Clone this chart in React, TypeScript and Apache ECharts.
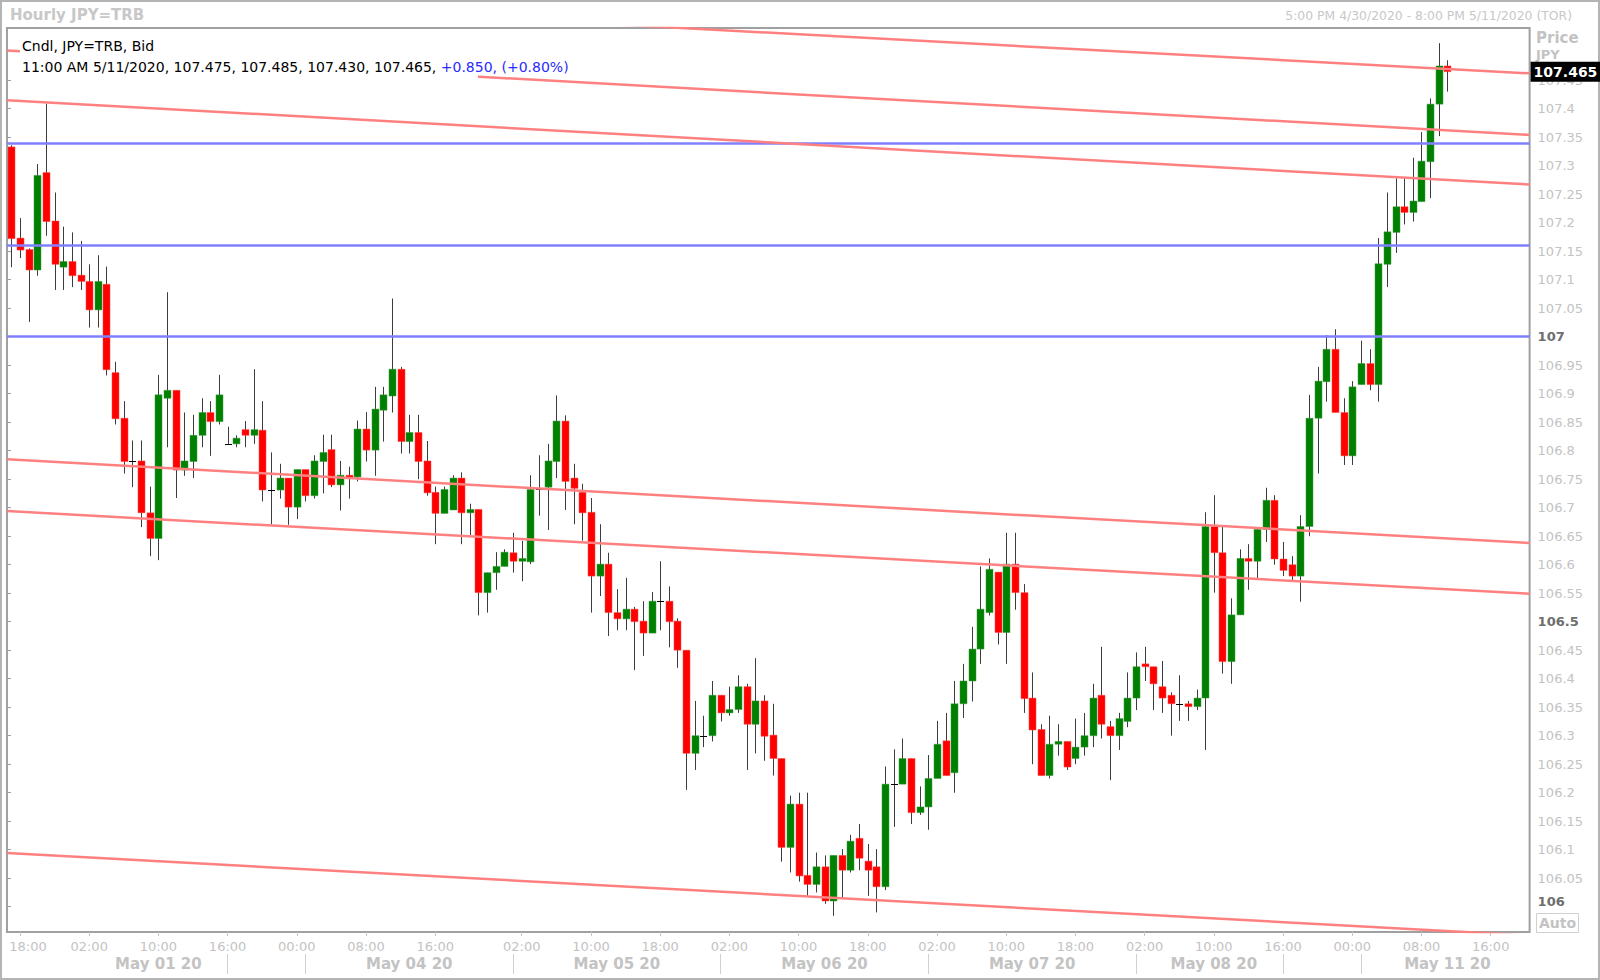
import React, { useEffect, useRef } from "react";
import * as echarts from "echarts";

// ---- time axis: trading sessions (date, first hour, last hour) ----
const sessions: [string, number, number][] = [
  ["2020-04-30", 17, 23],
  ["2020-05-01", 0, 17],
  ["2020-05-03", 16, 23],
  ["2020-05-04", 0, 23],
  ["2020-05-05", 0, 23],
  ["2020-05-06", 0, 23],
  ["2020-05-07", 0, 23],
  ["2020-05-08", 0, 17],
  ["2020-05-10", 16, 23],
  ["2020-05-11", 0, 20],
];

// ---- hourly OHLC (JPY=TRB, Bid) ----
const opens = [
  107.333, 107.173, 107.153, 107.117, 107.288, 107.203, 107.122, 107.132, 107.108, 107.097,
  107.047, 107.092, 106.937, 106.857, 106.782, 106.782, 106.691, 106.646, 106.892, 106.906,
  106.766, 106.781, 106.827, 106.867, 106.851, 106.812, 106.812, 106.837, 106.827, 106.836,
  106.731, 106.731, 106.752, 106.701, 106.767, 106.721, 106.781, 106.802, 106.740, 106.757,
  106.754, 106.838, 106.801, 106.871, 106.896, 106.943, 106.816, 106.832, 106.782, 106.727,
  106.690, 106.696, 106.752, 106.691, 106.697, 106.551, 106.586, 106.597, 106.621, 106.606,
  106.605, 106.732, 106.736, 106.781, 106.852, 106.752, 106.727, 106.692, 106.580, 106.601,
  106.516, 106.505, 106.522, 106.501, 106.480, 106.536, 106.536, 106.501, 106.450, 106.269,
  106.300, 106.300, 106.371, 106.340, 106.346, 106.386, 106.320, 106.361, 106.301, 106.260,
  106.104, 106.180, 106.055, 106.039, 106.070, 106.010, 106.090, 106.064, 106.120, 106.080,
  106.070, 106.035, 106.215, 106.215, 106.260, 106.165, 106.175, 106.225, 106.291, 106.235,
  106.356, 106.396, 106.452, 106.516, 106.587, 106.481, 106.601, 106.551, 106.366, 106.311,
  106.230, 106.285, 106.290, 106.260, 106.280, 106.300, 106.371, 106.316, 106.300, 106.325,
  106.366, 106.426, 106.421, 106.386, 106.371, 106.356, 106.356, 106.351, 106.366, 106.667,
  106.621, 106.430, 106.512, 106.611, 106.606, 106.662, 106.713, 106.610, 106.600, 106.580,
  106.667, 106.857, 106.921, 106.978, 106.867, 106.791, 106.916, 106.953, 106.916, 107.127,
  107.183, 107.228, 107.218, 107.237, 107.307, 107.408, 107.475,
];
const highs = [
  107.336, 107.208, 107.155, 107.303, 107.409, 107.253, 107.193, 107.183, 107.168, 107.127,
  107.143, 107.123, 106.956, 106.887, 106.818, 106.818, 106.737, 106.933, 107.078, 106.906,
  106.867, 106.863, 106.892, 106.887, 106.933, 106.842, 106.827, 106.852, 106.943, 106.887,
  106.797, 106.777, 106.752, 106.767, 106.767, 106.792, 106.828, 106.828, 106.782, 106.772,
  106.853, 106.868, 106.912, 106.912, 107.067, 106.947, 106.863, 106.863, 106.817, 106.737,
  106.737, 106.757, 106.762, 106.707, 106.697, 106.586, 106.622, 106.627, 106.656, 106.642,
  106.757, 106.792, 106.812, 106.897, 106.862, 106.777, 106.742, 106.717, 106.671, 106.621,
  106.557, 106.577, 106.526, 106.536, 106.552, 106.606, 106.562, 106.506, 106.450, 106.361,
  106.335, 106.396, 106.371, 106.386, 106.406, 106.391, 106.436, 106.371, 106.356, 106.260,
  106.195, 106.200, 106.200, 106.095, 106.090, 106.090, 106.101, 106.126, 106.145, 106.110,
  106.101, 106.246, 106.276, 106.295, 106.260, 106.211, 106.266, 106.326, 106.340, 106.396,
  106.426, 106.491, 106.597, 106.611, 106.587, 106.656, 106.656, 106.566, 106.411, 106.320,
  106.335, 106.320, 106.290, 106.330, 106.340, 106.391, 106.456, 106.326, 106.340, 106.411,
  106.446, 106.456, 106.421, 106.431, 106.376, 106.406, 106.361, 106.381, 106.692, 106.722,
  106.667, 106.541, 106.627, 106.636, 106.662, 106.735, 106.722, 106.640, 106.615, 106.687,
  106.898, 106.947, 107.003, 107.013, 106.892, 106.922, 106.993, 106.978, 107.173, 107.253,
  107.278, 107.278, 107.314, 107.359, 107.418, 107.515, 107.485,
];
const lows = [
  107.122, 107.138, 107.026, 107.107, 107.177, 107.082, 107.082, 107.087, 107.082, 107.016,
  107.016, 106.932, 106.846, 106.760, 106.736, 106.666, 106.615, 106.608, 106.806, 106.717,
  106.756, 106.752, 106.806, 106.791, 106.846, 106.812, 106.806, 106.806, 106.812, 106.711,
  106.671, 106.716, 106.670, 106.680, 106.711, 106.716, 106.725, 106.736, 106.695, 106.716,
  106.746, 106.781, 106.756, 106.816, 106.867, 106.795, 106.795, 106.750, 106.721, 106.636,
  106.690, 106.696, 106.636, 106.652, 106.511, 106.516, 106.556, 106.597, 106.586, 106.571,
  106.601, 106.686, 106.661, 106.752, 106.696, 106.671, 106.642, 106.516, 106.545, 106.475,
  106.485, 106.485, 106.415, 106.440, 106.480, 106.485, 106.455, 106.419, 106.205, 106.240,
  106.280, 106.290, 106.325, 106.335, 106.340, 106.240, 106.269, 106.256, 106.230, 106.079,
  106.060, 106.044, 106.019, 106.025, 106.005, 105.984, 106.015, 106.060, 106.064, 106.019,
  105.990, 106.029, 106.140, 106.215, 106.145, 106.161, 106.135, 106.225, 106.230, 106.200,
  106.331, 106.360, 106.426, 106.511, 106.460, 106.426, 106.521, 106.340, 106.250, 106.230,
  106.225, 106.265, 106.240, 106.250, 106.265, 106.280, 106.295, 106.222, 106.275, 106.315,
  106.345, 106.396, 106.345, 106.340, 106.300, 106.326, 106.326, 106.345, 106.275, 106.551,
  106.409, 106.391, 106.512, 106.556, 106.576, 106.640, 106.600, 106.580, 106.570, 106.535,
  106.650, 106.760, 106.886, 106.867, 106.775, 106.775, 106.916, 106.906, 106.886, 107.087,
  107.147, 107.197, 107.202, 107.237, 107.243, 107.352, 107.430,
];
const closes = [
  107.172, 107.152, 107.117, 107.283, 107.202, 107.127, 107.132, 107.107, 107.097, 107.047,
  107.097, 106.942, 106.856, 106.781, 106.782, 106.691, 106.646, 106.898, 106.906, 106.766,
  106.782, 106.827, 106.867, 106.851, 106.898, 106.812, 106.822, 106.827, 106.837, 106.731,
  106.731, 106.752, 106.701, 106.767, 106.721, 106.782, 106.797, 106.740, 106.757, 106.752,
  106.838, 106.801, 106.873, 106.898, 106.943, 106.816, 106.832, 106.781, 106.726, 106.690,
  106.732, 106.752, 106.691, 106.697, 106.551, 106.586, 106.597, 106.622, 106.606, 106.611,
  106.732, 106.732, 106.782, 106.852, 106.746, 106.734, 106.691, 106.580, 106.601, 106.516,
  106.505, 106.522, 106.500, 106.480, 106.536, 106.536, 106.500, 106.450, 106.269, 106.300,
  106.300, 106.371, 106.340, 106.346, 106.386, 106.320, 106.361, 106.299, 106.260, 106.104,
  106.180, 106.054, 106.039, 106.070, 106.010, 106.090, 106.064, 106.115, 106.085, 106.064,
  106.035, 106.215, 106.215, 106.260, 106.165, 106.175, 106.225, 106.285, 106.230, 106.356,
  106.396, 106.452, 106.522, 106.592, 106.481, 106.601, 106.551, 106.365, 106.310, 106.230,
  106.285, 106.290, 106.245, 106.280, 106.300, 106.366, 106.320, 106.300, 106.330, 106.366,
  106.421, 106.421, 106.391, 106.366, 106.356, 106.356, 106.351, 106.366, 106.667, 106.621,
  106.430, 106.512, 106.611, 106.606, 106.662, 106.713, 106.610, 106.590, 106.580, 106.667,
  106.857, 106.922, 106.978, 106.867, 106.791, 106.912, 106.953, 106.916, 107.128, 107.184,
  107.228, 107.218, 107.238, 107.308, 107.408, 107.475, 107.465,
];

// ---- axis ticks / labels ----
const priceTicks = [
  106, 106.05, 106.1, 106.15, 106.2, 106.25, 106.3, 106.35, 106.4, 106.45,
  106.5, 106.55, 106.6, 106.65, 106.7, 106.75, 106.8, 106.85, 106.9, 106.95,
  107, 107.05, 107.1, 107.15, 107.2, 107.25, 107.3, 107.35, 107.4, 107.45,
];
const boldTicks = [106, 106.5, 107];
const timeLabelIdx = [1, 9, 17, 25, 33, 41, 49, 59, 67, 75, 83, 91, 99, 107, 115, 123, 131, 139, 147, 155, 163, 171];
const dateLabelIdx = [17, 46, 70, 94, 118, 139, 166];
const dateSepIdx = [25, 34, 58, 82, 106, 130, 147, 156];

// ---- drawn studies ----
const hLevels = [107.345, 107.163, 107.0];
const trendStart = [107.605, 107.502, 107.415, 106.785, 106.694, 106.094];
const trendEnd = [107.462, 107.354, 107.267, 106.638, 106.549, 105.9495];
const lastPrice = 107.465;
const changeText = "+0.850, (+0.80%)";

const Y_MIN = 105.9556;
const Y_MAX = 107.5416;
const MONTHS = ["Jan", "Feb", "Mar", "Apr", "May", "Jun", "Jul", "Aug", "Sep", "Oct", "Nov", "Dec"];
const FONT = "DejaVu Sans";

const categories: string[] = [];
sessions.forEach(([d, h0, h1]) => {
  for (let h = h0; h <= h1; h++) categories.push(`${d} ${String(h).padStart(2, "0")}:00`);
});
const SLOTS = categories.length;

export default function App() {
  const ref = useRef<HTMLDivElement>(null);
  useEffect(() => {
    document.body.style.margin = "0";
    if (!ref.current) return;
    const chart = echarts.init(ref.current, null, { renderer: "svg", width: 1600, height: 980 });
    const timeSet = new Set(timeLabelIdx);
    const dateSet = new Set(dateLabelIdx);
    const sepSet = new Set(dateSepIdx);
    const candleData = opens.map((o, i) => [i, o, closes[i], lows[i], highs[i]]);
    const last = opens.length - 1;
    const legendRow2 = `${categoryToLegend(categories[last])}, ${opens[last].toFixed(3)}, ${highs[last].toFixed(3)}, ${lows[last].toFixed(3)}, ${closes[last].toFixed(3)}, `;

    const trendSeries = trendStart.map((s, k) => ({
      type: "line",
      xAxisIndex: 2,
      yAxisIndex: 0,
      data: [[0, s], [SLOTS, trendEnd[k]]],
      symbol: "none",
      silent: true,
      clip: true,
      z: 5,
      lineStyle: { color: "#ff8080", width: 2.5 },
      markLine:
        k === 0
          ? {
              silent: true,
              symbol: "none",
              animation: false,
              label: { show: false },
              data: hLevels.map((v) => ({ yAxis: v, lineStyle: { color: "#8080ff", width: 2.5, type: "solid" } })),
            }
          : undefined,
    }));

    const priceLabelSeries = {
      type: "line",
      xAxisIndex: 2,
      yAxisIndex: 0,
      data: [[0, lastPrice], [SLOTS, lastPrice]],
      symbol: "none",
      silent: true,
      z: 20,
      lineStyle: { width: 0, color: "rgba(0,0,0,0)" },
      endLabel: {
        show: true,
        distance: 1,
        formatter: () => lastPrice.toFixed(3),
        backgroundColor: "#000",
        color: "#fff",
        fontWeight: "bold",
        fontSize: 14,
        fontFamily: FONT,
        padding: [3, 4, 3, 3],
      },
    };

    const option: any = {
      animation: false,
      textStyle: { fontFamily: FONT },
      grid: {
        left: 7,
        right: 70.4,
        top: 28,
        bottom: 48,
        show: true,
        borderColor: "#a0a0a0",
        borderWidth: 2,
        backgroundColor: "transparent",
      },
      xAxis: [
        {
          type: "category",
          data: categories,
          boundaryGap: true,
          axisLine: { show: false },
          splitLine: { show: false },
          axisTick: {
            show: true,
            alignWithLabel: true,
            length: 4,
            interval: (i: number) => timeSet.has(i),
            lineStyle: { color: "#c8c8c8" },
          },
          axisLabel: {
            interval: (i: number) => timeSet.has(i),
            formatter: (v: string, idx: number) => (idx === timeLabelIdx[0] ? `{f|${v.slice(11)}}` : v.slice(11)),
            color: "#c3c3c3",
            fontSize: 13,
            fontFamily: FONT,
            margin: 8,
            rich: { f: { color: "#c3c3c3", fontSize: 13, fontFamily: FONT, padding: [0, 0, 0, 16] } },
          },
        },
        {
          type: "category",
          data: categories,
          position: "bottom",
          offset: 22,
          boundaryGap: true,
          axisLine: { show: false },
          splitLine: { show: false },
          axisTick: {
            show: true,
            alignWithLabel: true,
            length: 20,
            interval: (i: number) => sepSet.has(i),
            lineStyle: { color: "#d0d0d0" },
          },
          axisLabel: {
            interval: (i: number) => dateSet.has(i),
            formatter: (v: string) => `${MONTHS[+v.slice(5, 7) - 1]} ${v.slice(8, 10)} ${v.slice(2, 4)}`,
            color: "#c3c3c3",
            fontSize: 15,
            fontWeight: "bold",
            fontFamily: FONT,
            margin: 2,
          },
        },
        { type: "value", min: 0, max: SLOTS, show: false },
      ],
      yAxis: [
        {
          type: "value",
          position: "right",
          min: Y_MIN,
          max: Y_MAX,
          splitNumber: 32,
          scale: true,
          axisLine: { show: false },
          splitLine: { show: false },
          axisTick: { show: true, length: 4, lineStyle: { color: "#a0a0a0" }, customValues: priceTicks },
          axisLabel: {
            customValues: priceTicks,
            margin: 8,
            formatter: (v: number) => {
              const s = String(Number(v.toFixed(3)));
              if (Math.abs(v - priceTicks[0]) < 1e-6) return `{low|${s}}`;
              return boldTicks.some((b) => Math.abs(b - v) < 1e-6) ? `{b|${s}}` : `{n|${s}}`;
            },
            rich: {
              n: { color: "#c3c3c3", fontSize: 13, fontFamily: FONT },
              b: { color: "#6e6e6e", fontSize: 13, fontFamily: FONT, fontWeight: "bold" },
              low: { color: "#6e6e6e", fontSize: 13, fontFamily: FONT, fontWeight: "bold", padding: [0, 0, 10, 0] },
            },
          },
        },
      ],
      graphic: [
        {
          type: "rect",
          z: 0,
          silent: true,
          shape: { x: 1, y: 1, width: 1598, height: 978 },
          style: { fill: "none", stroke: "#b4b4b4", lineWidth: 2 },
        },
        {
          type: "text",
          z: 10,
          x: 10,
          y: 15,
          style: { text: "Hourly JPY=TRB", fill: "#c8c8c8", font: `bold 15px '${FONT}'`, textVerticalAlign: "middle" },
        },
        {
          type: "text",
          z: 10,
          x: 1572,
          y: 15,
          style: {
            text: "5:00 PM 4/30/2020 - 8:00 PM 5/11/2020 (TOR)",
            fill: "#c8c8c8",
            font: `12.4px '${FONT}'`,
            textAlign: "right",
            textVerticalAlign: "middle",
          },
        },
        {
          type: "text",
          z: 1,
          x: 1536,
          y: 38,
          style: { text: "Price", fill: "#c3c3c3", font: `bold 15px '${FONT}'`, textVerticalAlign: "middle" },
        },
        {
          type: "text",
          z: 1,
          x: 1536,
          y: 54,
          style: { text: "JPY", fill: "#c3c3c3", font: `bold 13px '${FONT}'`, textVerticalAlign: "middle" },
        },
        {
          type: "rect",
          z: 10,
          shape: { x: 1536.5, y: 913.5, width: 42, height: 19 },
          style: { fill: "#fff", stroke: "#d0d0d0", lineWidth: 1 },
        },
        {
          type: "text",
          z: 11,
          x: 1557.5,
          y: 923,
          style: {
            text: "Auto",
            fill: "#c3c3c3",
            font: `bold 14px '${FONT}'`,
            textAlign: "center",
            textVerticalAlign: "middle",
          },
        },
        {
          type: "rect",
          z: 50,
          silent: true,
          shape: { x: 20, y: 33, width: 458, height: 46 },
          style: { fill: "#ffffff" },
        },
        {
          type: "text",
          z: 51,
          x: 22,
          y: 46,
          style: { text: "Cndl, JPY=TRB, Bid", fill: "#000", font: `14px '${FONT}'`, textVerticalAlign: "middle" },
        },
        {
          type: "text",
          z: 51,
          x: 22,
          y: 67,
          style: {
            text: `{k|${legendRow2}}{c|${changeText}}`,
            textVerticalAlign: "middle",
            font: `14px '${FONT}'`,
            rich: {
              k: { fill: "#000", fontSize: 14, fontFamily: FONT },
              c: { fill: "#2a2aff", fontSize: 14, fontFamily: FONT },
            },
          },
        },
      ],
      series: [
        {
          type: "custom",
          xAxisIndex: 0,
          yAxisIndex: 0,
          z: 3,
          clip: true,
          encode: { x: 0, y: [1, 2, 3, 4] },
          data: candleData,
          renderItem: (params: any, api: any) => {
            const i = api.value(0);
            const o = api.value(1);
            const c = api.value(2);
            const l = api.value(3);
            const h = api.value(4);
            const pO = api.coord([i, o]);
            const pC = api.coord([i, c]);
            const pL = api.coord([i, l]);
            const pH = api.coord([i, h]);
            const cx = Math.round(pO[0]);
            const top = Math.min(pO[1], pC[1]);
            const bot = Math.max(pO[1], pC[1]);
            const doji = Math.abs(c - o) < 1e-9;
            const children: any[] = [
              {
                type: "line",
                shape: { x1: cx + 0.5, y1: pH[1], x2: cx + 0.5, y2: pL[1] },
                style: { stroke: "#3c3c3c", lineWidth: 1 },
              },
            ];
            if (doji) {
              children.push({
                type: "line",
                shape: { x1: cx - 3, y1: Math.round(top) + 0.5, x2: cx + 4, y2: Math.round(top) + 0.5 },
                style: { stroke: "#000", lineWidth: 1 },
              });
            } else {
              children.push({
                type: "rect",
                shape: { x: cx - 3, y: top, width: 7, height: Math.max(bot - top, 1.5) },
                style: { fill: c > o ? "#008000" : "#ff0000", stroke: c > o ? "#3f9a3f" : "#ff4a4a", lineWidth: 0.5 },
              });
            }
            return { type: "group", children };
          },
        },
        ...trendSeries,
        priceLabelSeries,
      ],
    };
    chart.setOption(option);
    return () => chart.dispose();
  }, []);
  return <div ref={ref} style={{ position: "fixed", left: 0, top: 0, width: 1600, height: 980, background: "#fff" }} />;
}

function categoryToLegend(cat: string): string {
  const d = cat.slice(0, 10);
  const h = +cat.slice(11, 13);
  const ampm = h >= 12 ? "PM" : "AM";
  const h12 = h % 12 === 0 ? 12 : h % 12;
  return `${h12}:00 ${ampm} ${+d.slice(5, 7)}/${+d.slice(8, 10)}/${d.slice(0, 4)}`;
}
